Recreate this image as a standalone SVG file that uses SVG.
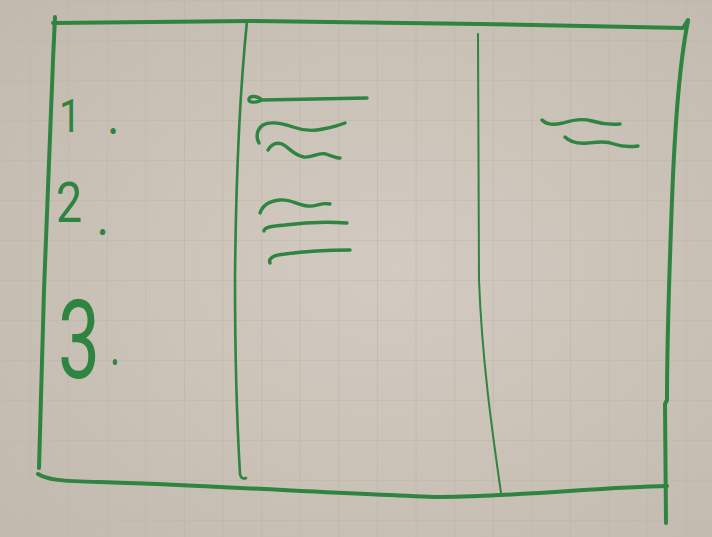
<svg xmlns="http://www.w3.org/2000/svg" width="712" height="537" viewBox="0 0 712 537">
  <defs>
    <pattern id="grid" x="-9" y="0" width="38.6" height="40" patternUnits="userSpaceOnUse">
      <path d="M 0 0 L 38.6 0 M 0 0 L 0 40" fill="none" stroke="#bdb5aa" stroke-width="1.2"/>
    </pattern>
    <radialGradient id="shade" cx="0.55" cy="0.5" r="0.75">
      <stop offset="0" stop-color="#d3cbc1"/>
      <stop offset="1" stop-color="#c2b9ae"/>
    </radialGradient>
  </defs>
  <style>
    .pen { fill: none; stroke: #2e8440; stroke-linecap: round; stroke-linejoin: round; }
    .frame { stroke-width: 4; }
    .div1 { stroke-width: 2.6; }
    .div2 { stroke-width: 2; }
    .sq { stroke-width: 3.4; }
    .num { fill: #2e8440; font-family: Roboto, "Liberation Sans", sans-serif; font-weight: 400; }
  </style>
  <rect width="712" height="537" fill="url(#shade)"/>
  <rect width="712" height="537" fill="url(#grid)"/>

  <g id="frame">
    <path class="pen frame" d="M 53 23 L 250 21 L 480 24 L 683 28 L 688 20"/>
    <path class="pen frame" d="M 55 17 C 50 120 46 230 44 290 C 42 360 40 420 39 468"/>
    <path class="pen frame" d="M 38 474 C 48 480 60 481 100 482 C 200 485 350 494 440 497 C 530 496 600 487 667 486"/>
    <path class="pen frame" d="M 688 21 C 680 60 675 120 672 200 C 669 280 667 340 667 400 L 665 404 L 666 523"/>
  </g>

  <g id="dividers">
    <path class="pen div1" d="M 247 21 C 241 80 236 160 235 280 C 235 380 238 440 240 474 C 241 479 244 479 246 478"/>
    <path class="pen div2" d="M 478 34 C 478 120 478 200 479 280 C 482 360 492 430 501 493"/>
  </g>

  <g id="row-labels">
    <text class="num" font-size="46" transform="translate(59,132) scale(0.85,1)"><tspan x="0" y="0">1</tspan><tspan x="58" y="2" font-size="40" font-weight="700">.</tspan></text>
    <text class="num" font-size="55" transform="translate(56,222) scale(0.85,1)"><tspan x="0" y="0">2</tspan><tspan x="49" y="13" font-size="40" font-weight="700">.</tspan></text>
    <text class="num" font-size="110" transform="translate(58,378) scale(0.68,1)"><tspan x="0" y="0">3</tspan><tspan x="78" y="-13" font-size="40" font-weight="700">.</tspan></text>
  </g>

  <g id="column1-notes">
    <path class="pen sq" d="M 262 100 C 258 96 250 95 249 99 C 248 103 256 103 262 100 L 367 98"/>
    <path class="pen sq" d="M 259 143 C 256 138 256 130 263 125 C 270 121 281 123 293 127 C 304 131 315 131 323 129 C 333 127 340 125 345 123"/>
    <path class="pen sq" d="M 268 150 C 271 145 276 142 282 144 C 289 147 293 155 304 157 C 312 158 318 152 326 154 C 332 156 336 158 340 158"/>
    <path class="pen sq" d="M 260 213 C 262 207 268 201 280 200 C 291 199 297 205 308 206 C 316 207 321 202 330 204"/>
    <path class="pen sq" d="M 264 231 C 264 227 272 226 285 225 C 300 223 318 221 347 223"/>
    <path class="pen sq" d="M 270 263 C 268 258 274 255 285 254 C 300 252 320 250 350 250"/>
  </g>

  <g id="column2-notes">
    <path class="pen sq" d="M 542 120 C 547 125 553 125 563 123 C 572 120 582 118 592 121 C 602 124 610 125 620 124"/>
    <path class="pen sq" d="M 565 137 C 570 142 578 144 588 143 C 598 142 606 141 614 144 C 622 147 630 147 638 146"/>
  </g>
</svg>
